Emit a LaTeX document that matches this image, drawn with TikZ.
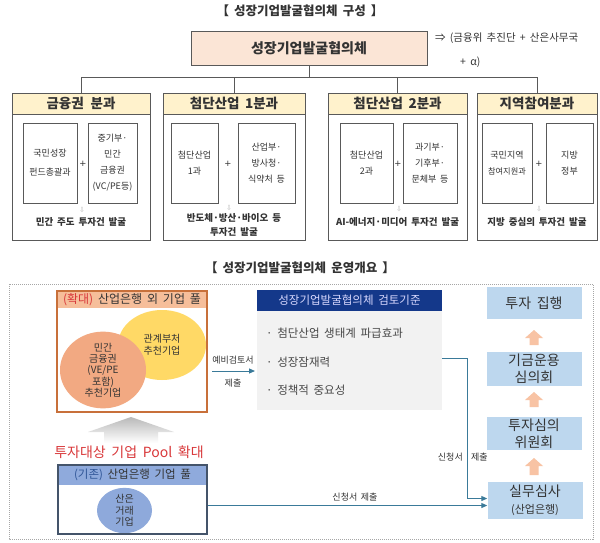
\documentclass[tikz,border=0pt]{standalone}
\usepackage{fontspec}
\setmainfont{Noto Sans CJK KR}[WordSpace=1.8]
\newfontfamily\dejavu{DejaVu Sans}
\usetikzlibrary{arrows.meta,shapes.geometric,calc}
\definecolor{peach}{HTML}{FBE5D6}
\definecolor{ylwh}{HTML}{FFF2CC}
\definecolor{gborder}{HTML}{595959}
\definecolor{txt}{HTML}{333333}
\definecolor{orangeb}{HTML}{C8703A}
\definecolor{orangeh}{HTML}{F6BE9A}
\definecolor{orangee}{HTML}{F2A982}
\definecolor{ylwe}{HTML}{FFD966}
\definecolor{blueh}{HTML}{8FAADC}
\definecolor{bluee}{HTML}{8EA9DB}
\definecolor{blueb}{HTML}{44546A}
\definecolor{bluetxt}{HTML}{2F5597}
\definecolor{navy}{HTML}{14388A}
\definecolor{lgray}{HTML}{F2F2F2}
\definecolor{rbox}{HTML}{BDD7EE}
\definecolor{peacharr}{HTML}{F8C3A4}
\definecolor{conncol}{HTML}{3A7A99}
\definecolor{redtxt}{HTML}{D9383A}
\newcommand\fsz[2]{\fontsize{#1}{#2}\selectfont}
\newcommand\peachup[3]{\fill[peacharr] (#1,#2) -- ({#1+9},{#2+8}) -- ({#1+4.5},{#2+8}) -- ({#1+4.5},#3) -- ({#1-4.5},#3) -- ({#1-4.5},{#2+8}) -- ({#1-9},{#2+8}) -- cycle;}
\begin{document}
\begin{tikzpicture}[x=1pt,y=-1pt,
  hdr/.style={draw=gborder,line width=0.7pt,fill=ylwh,minimum height=21pt,inner sep=0pt,font=\bfseries\fsz{13.5}{15},text=txt},
  gbody/.style={draw=gborder,line width=0.7pt,fill=white,minimum height=126pt,inner sep=0pt},
  ib/.style={draw=gborder,line width=0.6pt,fill=white,minimum height=80pt,inner sep=0pt,align=center,font=\fsz{9}{16},text=txt},
  plus/.style={inner sep=0pt,font=\dejavu\fsz{8.5}{9},text=txt},
  darr/.style={inner sep=0pt,font=\dejavu\fsz{7}{8},text=gray!55},
  btxt/.style={inner sep=0pt,align=center,font=\bfseries\fsz{9.5}{14},text=txt},
  rb/.style={fill=rbox,minimum width=95pt,inner sep=0pt,align=center,text=txt,font=\fsz{14}{17}},
  conn/.style={draw=conncol,line width=1pt,-{Triangle[length=6pt,width=5pt]}},
  small/.style={inner sep=0pt,font=\fsz{9}{11},text=txt},
  bul/.style={inner sep=0pt,anchor=west,font=\fsz{11.5}{13},text=txt!90}]
\useasboundingbox (0,0) rectangle (600,543);
\fill[white] (0,0) rectangle (600,543);

% ---------- top section ----------
\node[inner sep=0pt,font=\bfseries\fsz{12.5}{14},text=txt] (title1) at (300,11) {【 성장기업발굴협의체 구성 】};
\node[draw=gborder,line width=0.8pt,fill=peach,minimum width=236pt,minimum height=34pt,inner sep=0pt,font=\bfseries\fsz{14}{16},text=txt] (main) at (309,48) {성장기업발굴협의체};
\node[inner sep=0pt,anchor=west,font=\fsz{10.5}{12},text=txt] (note1) at (435,38) {⇒ (금융위 추진단 + 산은사무국};
\node[inner sep=0pt,anchor=west,font=\fsz{10.5}{12},text=txt] (note2) at (460,62) {+ α)};

\node[hdr,minimum width=138pt] (h1) at (81,103.5) {금융권\hspace{0.5em}분과};
\node[hdr,minimum width=142pt] (h2) at (234,103.5) {첨단산업 1분과};
\node[hdr,minimum width=139pt] (h3) at (397.5,103.5) {첨단산업 2분과};
\node[hdr,minimum width=120pt] (h4) at (537,103.5) {지역참여분과};
\node[gbody,minimum width=138pt,anchor=north] (b1) at (h1.south) {};
\node[gbody,minimum width=142pt,anchor=north] (b2) at (h2.south) {};
\node[gbody,minimum width=139pt,anchor=north] (b3) at (h3.south) {};
\node[gbody,minimum width=120pt,anchor=north] (b4) at (h4.south) {};

\coordinate (bus) at (0,77);
\draw[gborder,line width=0.7pt] (main.south) -- (main.south |- bus);
\draw[gborder,line width=0.7pt] (h1.north) -- (h1.north |- bus) -- (h4.north |- bus) -- (h4.north);
\draw[gborder,line width=0.7pt] (h2.north) -- (h2.north |- bus);
\draw[gborder,line width=0.7pt] (h3.north) -- (h3.north |- bus);

% group 1
\node[ib,minimum width=54pt,font=\fsz{9}{19}] (i1a) at (50,163) {국민성장\\펀드총괄과};
\node[ib,minimum width=49pt] (i1b) at (112.5,163) {중기부·\\민간\\금융권\\(VC/PE등)};
\node[plus] (p1) at (83,164) {+};
\node[darr] (d1) at (82,210) {⇩};
\node[btxt] (t1) at (81,222) {민간 주도 투자건 발굴};
% group 2
\node[ib,minimum width=47pt] (i2a) at (194.5,163) {첨단산업\\1과};
\node[ib,minimum width=57pt] (i2b) at (266.5,163) {산업부·\\방사청·\\식약처 등};
\node[plus] (p2) at (228,164) {+};
\node[darr] (d2) at (229,208) {⇩};
\node[btxt] (t2) at (234,225) {반도체·방산·바이오 등\\투자건 발굴};
% group 3
\node[ib,minimum width=53pt] (i3a) at (366.5,163) {첨단산업\\2과};
\node[ib,minimum width=54pt] (i3b) at (430,163) {과기부·\\기후부·\\문체부 등};
\node[plus] (p3) at (398,164) {+};
\node[darr] (d3) at (399,209) {⇩};
\node[btxt] (t3) at (397.5,222) {AI-에너지·미디어 투자건 발굴};
% group 4
\node[ib,minimum width=50pt] (i4a) at (507,163) {국민지역\\{\fsz{8.2}{16}참여지원과}};
\node[ib,minimum width=47pt] (i4b) at (569.5,163) {지방\\정부};
\node[plus] (p4) at (539,164) {+};
\node[darr] (d4) at (539,209) {⇩};
\node[btxt] (t4) at (537,222) {지방 중심의 투자건 발굴};

% ---------- lower section ----------
\node[inner sep=0pt,font=\bfseries\fsz{12.5}{14},text=txt] (title2) at (300,268) {【 성장기업발굴협의체 운영개요 】};
\draw[gray!70,line width=0.7pt,dash pattern=on 1pt off 1pt] (9,284) rectangle (593,539);

% expanded pool
\node[fill=orangeh,minimum width=150pt,minimum height=17pt,inner sep=0pt,font=\fsz{12}{14},text=txt] (ohdr) at (132,299.5) {{\color{redtxt}(확대)} 산업은행 외 기업 풀};
\node[ellipse,fill=ylwe,minimum width=88pt,minimum height=70pt,inner sep=0pt,align=center,font=\fsz{10}{12},text=txt] (ey) at (162,345) {관계부처\\추천기업};
\node[ellipse,fill=orangee,minimum width=86pt,minimum height=76pt,inner sep=0pt,align=center,font=\fsz{10}{11.3},text=txt] (eo) at (103,370) {민간\\금융권\\(VE/PE\\포함)\\추천기업};
\node[draw=orangeb,line width=1.2pt,minimum width=150pt,minimum height=121pt,inner sep=0pt] (opool) at (132,351.5) {};

% gray expansion arrow
\shade[top color=gray!55,bottom color=white] (131,417) -- (174,432) -- (158,432) -- (158,443) -- (104,443) -- (104,432) -- (88,432) -- cycle;
\node[inner sep=0pt,font=\fsz{14}{16},text=redtxt] (expand) at (129,452) {투자대상 기업 Pool 확대};

% existing pool
\node[fill=blueh,minimum width=149pt,minimum height=20pt,inner sep=0pt,font=\fsz{11.5}{13},text=txt] (bhdr) at (132.5,475) {{\color{bluetxt}(기존)} 산업은행 기업 풀};
\node[minimum width=149pt,minimum height=49pt,inner sep=0pt] (bbody) at (132.5,509.5) {};
\node[ellipse,fill=bluee,minimum width=55pt,minimum height=40pt,inner sep=0pt,align=center,font=\fsz{10}{11.5},text=txt] (eb) at (124.5,510.5) {산은\\거래\\기업};
\node[draw=blueb,line width=1.1pt,minimum width=149pt,minimum height=69pt,inner sep=0pt] (bpool) at (132.5,499.5) {};

% review criteria
\node[fill=navy,minimum width=185pt,minimum height=21pt,inner sep=0pt,font=\fsz{11.5}{13},text=white!85!blue] (rhdr) at (349.5,300.5) {성장기업발굴협의체 검토기준};
\node[fill=lgray,minimum width=185pt,minimum height=99pt,inner sep=0pt,anchor=north] (rbody) at (rhdr.south) {};
\node[bul] (c1) at (266,333) {· 첨단산업 생태계 파급효과};
\node[bul] (c2) at (266,362) {· 성장잠재력};
\node[bul] (c3) at (266,390) {· 정책적 중요성};

\node[small] (pre1) at (233,360) {예비검토서};
\node[small] (pre2) at (233,383) {제출};
\coordinate (pa) at (212,371);
\coordinate (pb) at (255,371);
\draw[conn] (pa) -- (pb);

% right column
\node[rb,minimum height=32pt] (r1) at (534,303) {투자 집행};
\node[rb,minimum height=34pt] (r2) at (534,369) {기금운용\\심의회};
\node[rb,minimum height=33pt] (r3) at (534,433.5) {투자심의\\위원회};
\node[rb,minimum height=37pt] (r4) at (535,500.5) {실무심사\\{\fsz{11}{13}(산업은행)}};
\peachup{534}{330}{345}
\peachup{534}{392}{407}
\peachup{534}{458}{475}

% connectors
\coordinate (hi) at ([yshift=2pt]r4.west);
\coordinate (lo) at ([yshift=-5pt]r4.west);
\draw[conn] ([yshift=2pt]rbody.east) -- ++(25,0) |- (hi);
\draw[conn] (bpool.east |- lo) -- (lo);
\node[small] (lab1) at (355,497) {신청서 제출};
\node[small,anchor=east] (lab2a) at (463,457) {신청서};
\node[small,anchor=west] (lab2b) at (471,457) {제출};
\end{tikzpicture}
\end{document}
